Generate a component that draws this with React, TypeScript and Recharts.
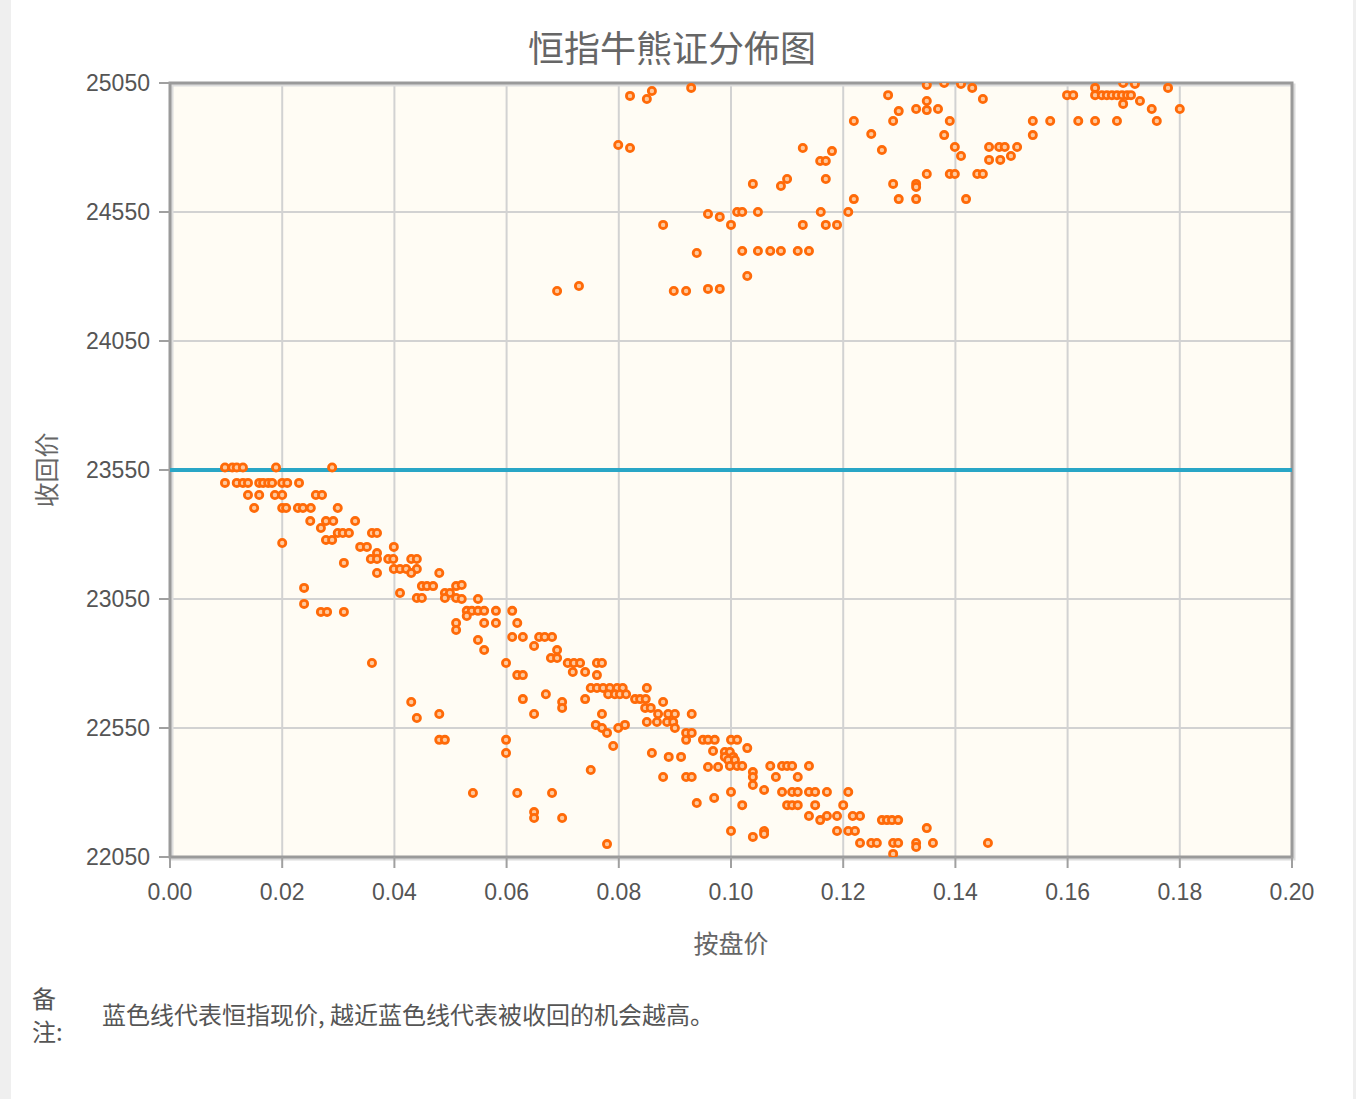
import React from "react";
import {
  ScatterChart,
  Scatter,
  XAxis,
  YAxis,
  CartesianGrid,
  ReferenceLine,
  ReferenceArea,
} from "recharts";

// 恒指现价 (blue line)
const currentIndex = 23550;

const xTicks = [0, 0.02, 0.04, 0.06, 0.08, 0.1, 0.12, 0.14, 0.16, 0.18, 0.2];
const yTicks = [22050, 22550, 23050, 23550, 24050, 24550, 25050];

// 牛证 [按盘价, 收回价]
const bullPoints: [number, number][] = [
  [0.0098, 23560], [0.0111, 23560], [0.0119, 23560], [0.013, 23560], [0.0189, 23560], [0.0289, 23560],
  [0.0098, 23500], [0.0119, 23500], [0.013, 23500], [0.0139, 23500], [0.0159, 23500], [0.0166, 23500],
  [0.0175, 23500], [0.0182, 23500], [0.02, 23500], [0.0209, 23500], [0.023, 23500],
  [0.0139, 23453], [0.0159, 23453], [0.0187, 23453], [0.02, 23453], [0.026, 23453], [0.0271, 23453],
  [0.015, 23403], [0.02, 23403], [0.0207, 23403], [0.0228, 23403], [0.0237, 23403], [0.0251, 23403], [0.0299, 23403],
  [0.025, 23352], [0.0278, 23352], [0.0291, 23352], [0.033, 23352],
  [0.0269, 23325],
  [0.0299, 23306], [0.0308, 23306], [0.0319, 23306], [0.036, 23306], [0.0369, 23306],
  [0.0278, 23279], [0.0289, 23279],
  [0.02, 23267],
  [0.0339, 23252], [0.0351, 23252], [0.0399, 23252],
  [0.0369, 23228],
  [0.0358, 23205], [0.0369, 23205], [0.0389, 23205], [0.0398, 23205], [0.043, 23205], [0.044, 23205],
  [0.031, 23190],
  [0.0399, 23166], [0.041, 23166], [0.0421, 23166], [0.044, 23166],
  [0.0369, 23151], [0.043, 23151], [0.048, 23151],
  [0.0449, 23100], [0.0458, 23100], [0.0469, 23100], [0.051, 23100], [0.052, 23104],
  [0.0239, 23093],
  [0.041, 23073], [0.049, 23073], [0.0499, 23073],
  [0.044, 23054], [0.0449, 23054], [0.049, 23054], [0.051, 23054], [0.052, 23050], [0.0549, 23050],
  [0.0239, 23031],
  [0.0269, 23000], [0.028, 23000], [0.031, 23000],
  [0.0529, 23004], [0.0538, 23004], [0.0549, 23004], [0.056, 23004], [0.0581, 23004], [0.061, 23004],
  [0.0529, 22984],
  [0.051, 22957], [0.056, 22957], [0.0581, 22957], [0.0619, 22957],
  [0.051, 22930],
  [0.061, 22903], [0.0629, 22903], [0.0658, 22903], [0.0668, 22903], [0.0681, 22903],
  [0.0549, 22891],
  [0.0649, 22868],
  [0.056, 22852], [0.069, 22852],
  [0.0679, 22821], [0.069, 22821],
  [0.036, 22802], [0.0599, 22802], [0.0709, 22802], [0.072, 22802], [0.0731, 22802], [0.0761, 22802], [0.077, 22802],
  [0.0718, 22767], [0.074, 22767],
  [0.0619, 22755], [0.0629, 22755], [0.0761, 22755],
  [0.075, 22705], [0.0761, 22705], [0.0772, 22705], [0.0784, 22705], [0.0797, 22705], [0.0807, 22705], [0.085, 22705],
  [0.067, 22681], [0.0781, 22681], [0.0793, 22681], [0.0802, 22681], [0.0813, 22681],
  [0.0629, 22662], [0.074, 22662], [0.0829, 22662], [0.0838, 22662], [0.0848, 22662],
  [0.043, 22651], [0.0699, 22651], [0.0879, 22651],
  [0.0699, 22628], [0.0847, 22628], [0.0857, 22628],
  [0.048, 22604], [0.0649, 22604], [0.077, 22604], [0.087, 22604], [0.0888, 22604], [0.09, 22604], [0.093, 22604],
  [0.044, 22589],
  [0.085, 22573], [0.0868, 22573], [0.0886, 22573], [0.0897, 22573],
  [0.0759, 22562], [0.0811, 22562],
  [0.077, 22550], [0.0799, 22550], [0.09, 22550],
  [0.0779, 22531], [0.092, 22531], [0.093, 22531],
  [0.048, 22504], [0.049, 22504], [0.0599, 22504], [0.092, 22504], [0.095, 22504], [0.0959, 22504], [0.0971, 22504],
  [0.1, 22504], [0.1011, 22504],
  [0.079, 22480],
  [0.1029, 22472],
  [0.0968, 22461],
  [0.0989, 22457], [0.0998, 22457],
  [0.0599, 22453], [0.0859, 22453],
  [0.0889, 22438], [0.0911, 22438], [0.0989, 22438], [0.1004, 22438],
  [0.0995, 22426], [0.1007, 22426],
  [0.0959, 22399], [0.0977, 22399],
  [0.0998, 22403], [0.1011, 22403], [0.102, 22403], [0.107, 22403], [0.1091, 22403], [0.11, 22403], [0.1109, 22403], [0.1139, 22403],
  [0.075, 22387],
  [0.1039, 22379],
  [0.0879, 22360], [0.092, 22360], [0.093, 22360], [0.1039, 22360], [0.108, 22360], [0.1119, 22360],
  [0.1039, 22329],
  [0.1059, 22310],
  [0.1, 22302], [0.1091, 22302], [0.1109, 22302], [0.1119, 22302], [0.1139, 22302], [0.115, 22302], [0.1171, 22302], [0.1209, 22302],
  [0.054, 22298], [0.0619, 22298], [0.0681, 22298],
  [0.097, 22279],
  [0.0939, 22259],
  [0.102, 22251], [0.11, 22251], [0.1109, 22251], [0.1119, 22251], [0.115, 22251], [0.12, 22251],
  [0.0649, 22224],
  [0.1139, 22209], [0.1171, 22209], [0.1189, 22209], [0.1217, 22209], [0.123, 22209],
  [0.0649, 22201], [0.0699, 22201],
  [0.1159, 22193], [0.1269, 22193], [0.1278, 22193], [0.1287, 22193], [0.1298, 22193],
  [0.1349, 22162],
  [0.1, 22151], [0.1059, 22151], [0.1189, 22151], [0.1209, 22151], [0.1221, 22151],
  [0.1059, 22139],
  [0.1039, 22128],
  [0.123, 22104], [0.125, 22104], [0.126, 22104], [0.1289, 22104], [0.1298, 22104], [0.133, 22104], [0.136, 22104], [0.1458, 22104],
  [0.0779, 22100],
  [0.133, 22089],
  [0.1289, 22062],
];

// 熊证 [按盘价, 收回价]
const bearPoints: [number, number][] = [
  [0.082, 25000], [0.085, 24988], [0.0859, 25019], [0.0929, 25031],
  [0.0799, 24810], [0.082, 24798],
  [0.1128, 24798], [0.118, 24786], [0.1159, 24748], [0.1169, 24748],
  [0.1169, 24678], [0.11, 24678], [0.1089, 24651], [0.1039, 24659],
  [0.0959, 24542], [0.098, 24531], [0.1, 24500], [0.1011, 24550], [0.102, 24550], [0.1048, 24550], [0.116, 24550],
  [0.0879, 24500], [0.1128, 24500], [0.1169, 24500], [0.1189, 24500],
  [0.0939, 24391], [0.102, 24399], [0.1048, 24399], [0.107, 24399], [0.1089, 24399], [0.1119, 24399], [0.1139, 24399],
  [0.1029, 24302],
  [0.069, 24244], [0.0729, 24263], [0.0898, 24244], [0.092, 24244], [0.0959, 24252], [0.098, 24252],
  [0.1349, 25042], [0.138, 25050], [0.141, 25046], [0.143, 25031],
  [0.128, 25003], [0.1349, 24980], [0.1349, 24945], [0.133, 24949], [0.1369, 24949], [0.1299, 24941],
  [0.1449, 24988],
  [0.1219, 24903], [0.1289, 24903], [0.139, 24903],
  [0.125, 24852], [0.138, 24848],
  [0.1269, 24790], [0.1399, 24802], [0.141, 24767],
  [0.146, 24802], [0.1478, 24802], [0.1488, 24802], [0.151, 24802],
  [0.146, 24752], [0.148, 24752], [0.1499, 24767],
  [0.1538, 24903], [0.1538, 24848], [0.1569, 24903],
  [0.1349, 24697], [0.139, 24697], [0.1399, 24697], [0.1439, 24697], [0.1449, 24697],
  [0.1289, 24659], [0.133, 24659], [0.133, 24647],
  [0.1219, 24600], [0.1299, 24600], [0.133, 24600], [0.1419, 24600],
  [0.1209, 24550],
  [0.1599, 25003], [0.161, 25003],
  [0.1649, 25031], [0.1649, 25003], [0.1661, 25003], [0.167, 25003], [0.1679, 25003], [0.1688, 25003],
  [0.1697, 25003], [0.1706, 25003], [0.1713, 25003],
  [0.1699, 25050], [0.172, 25046], [0.1699, 24969], [0.1729, 24980], [0.175, 24949],
  [0.1779, 25031], [0.18, 24949],
  [0.1619, 24903], [0.1649, 24903], [0.1688, 24903], [0.1759, 24903],
];

const allPoints = [...bullPoints, ...bearPoints].map(([x, y]) => ({ x, y }));

const tickFont = '"Liberation Sans", Arial, sans-serif';
const cjkFont = '"Noto Sans CJK SC", "Noto Sans", sans-serif';

const Dot = (props: any) => {
  const { cx, cy } = props;
  if (cx == null || cy == null) return null;
  return (
    <circle cx={cx} cy={cy} r={3.6} fill="#ffc89c" stroke="#ff6a08" strokeWidth={2.8} />
  );
};

const Frame = (props: any) => {
  const { x, y, width, height } = props;
  return (
    <g>
      <rect x={x + 2} y={y + 2} width={width} height={height} fill="none" stroke="#dcdcdc" strokeWidth={3} />
      <rect x={x} y={y} width={width} height={height} fill="none" stroke="#9a9a9a" strokeWidth={3} />
    </g>
  );
};

export default function App() {
  return (
    <div
      style={{
        position: "absolute",
        left: 0,
        top: 0,
        width: 1356,
        height: 1099,
        background: "#efefef",
        overflow: "hidden",
      }}
    >
      <div
        style={{
          position: "absolute",
          left: 11,
          top: 0,
          width: 1342,
          height: 1099,
          background: "#ffffff",
        }}
      />
      <div
        style={{
          position: "absolute",
          left: 0,
          top: 26,
          width: 1344,
          textAlign: "center",
          fontFamily: cjkFont,
          fontSize: 36,
          lineHeight: "40px",
          color: "#666",
        }}
      >
        恒指牛熊证分佈图
      </div>
      <div style={{ position: "absolute", left: 0, top: 0 }}>
        <ScatterChart
          width={1356}
          height={980}
          margin={{ top: 83, right: 64, bottom: 63, left: 110 }}
        >
          <CartesianGrid
            fill="#fffcf4"
            stroke="#d2d2d2"
            strokeWidth={2}
            horizontalValues={yTicks}
            verticalValues={xTicks}
          />
          <XAxis
            type="number"
            dataKey="x"
            domain={[0, 0.2]}
            ticks={xTicks}
            allowDataOverflow
            height={60}
            axisLine={false}
            tickSize={11}
            tickMargin={16}
            tickLine={{ stroke: "#a0a0a0", strokeWidth: 2 }}
            tickFormatter={(v: number) => v.toFixed(2)}
            tick={{ fill: "#555", fontSize: 23, fontFamily: tickFont }}
            interval={0}
          />
          <YAxis
            type="number"
            dataKey="y"
            domain={[22050, 25050]}
            ticks={yTicks}
            allowDataOverflow
            width={60}
            axisLine={false}
            tickSize={11}
            tickMargin={9}
            tickLine={{ stroke: "#a0a0a0", strokeWidth: 2 }}
            tick={{ fill: "#555", fontSize: 23, fontFamily: tickFont }}
            interval={0}
          />
          <ReferenceLine y={currentIndex} stroke="#29a6c6" strokeWidth={4} ifOverflow="visible" />
          <Scatter data={allPoints} shape={Dot} isAnimationActive={false} />
          <ReferenceArea
            x1={0}
            x2={0.2}
            y1={22050}
            y2={25050}
            shape={Frame}
            ifOverflow="visible"
          />
        </ScatterChart>
      </div>
      <div
        style={{
          position: "absolute",
          left: 631,
          top: 927,
          width: 200,
          textAlign: "center",
          fontFamily: cjkFont,
          fontSize: 25,
          lineHeight: "30px",
          color: "#666",
        }}
      >
        按盘价
      </div>
      <div
        style={{
          position: "absolute",
          left: -55,
          top: 455,
          width: 200,
          textAlign: "center",
          fontFamily: cjkFont,
          fontSize: 25,
          lineHeight: "30px",
          color: "#666",
          transform: "rotate(-90deg)",
        }}
      >
        收回价
      </div>
      <div
        style={{
          position: "absolute",
          left: 32,
          top: 981,
          fontFamily: cjkFont,
          fontSize: 24,
          lineHeight: "33px",
          color: "#555",
        }}
      >
        备
        <br />
        注:
      </div>
      <div
        style={{
          position: "absolute",
          left: 102,
          top: 999,
          fontFamily: cjkFont,
          fontSize: 24,
          lineHeight: "30px",
          color: "#555",
          whiteSpace: "nowrap",
        }}
      >
        蓝色线代表恒指现价, 越近蓝色线代表被收回的机会越高。
      </div>
    </div>
  );
}
